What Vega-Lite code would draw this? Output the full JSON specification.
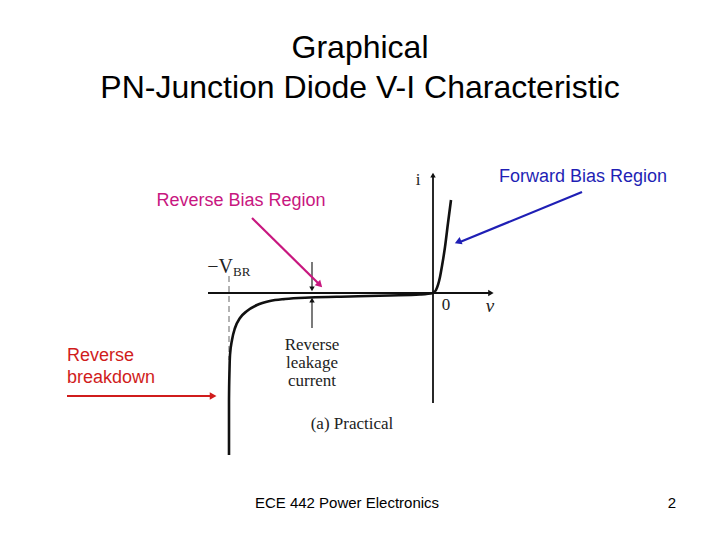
{
  "$schema": "https://vega.github.io/schema/vega-lite/v6.json",
  "width": 720,
  "height": 540,
  "padding": 0,
  "autosize": {"type": "fit", "contains": "padding"},
  "background": "white",
  "config": {"view": {"stroke": null}},
  "datasets": {
    "curve": [
      {"k": 1, "v": -204, "i": -162},
      {"k": 2, "v": -204, "i": -107},
      {"k": 3, "v": -203.5, "i": -77},
      {"k": 4, "v": -203, "i": -62},
      {"k": 5, "v": -201, "i": -47},
      {"k": 6, "v": -198, "i": -35},
      {"k": 7, "v": -193, "i": -25},
      {"k": 8, "v": -186, "i": -18},
      {"k": 9, "v": -176, "i": -12},
      {"k": 10, "v": -163, "i": -8},
      {"k": 11, "v": -148, "i": -6},
      {"k": 12, "v": -123, "i": -4.5},
      {"k": 13, "v": -83, "i": -3.5},
      {"k": 14, "v": -43, "i": -2.5},
      {"k": 15, "v": -13, "i": -1.5},
      {"k": 16, "v": 0, "i": 0},
      {"k": 17, "v": 3, "i": 3},
      {"k": 18, "v": 7, "i": 16},
      {"k": 19, "v": 9, "i": 27},
      {"k": 20, "v": 12, "i": 46},
      {"k": 21, "v": 15, "i": 70},
      {"k": 22, "v": 18, "i": 93}
    ],
    "axes": [
      {"v": -225, "i": 0, "v2": 57, "i2": 0},
      {"v": 0, "i": -110, "v2": 0, "i2": 116}
    ],
    "dashed": [{"v": -204, "i": 17, "v2": -204, "i2": -67}],
    "leak": [
      {"v": -121, "i": 31, "v2": -121, "i2": 4},
      {"v": -121, "i": -35, "v2": -121, "i2": -7}
    ],
    "headsUp": [{"v": 0, "i": 117}, {"v": -121, "i": -8}],
    "headsDown": [{"v": -121, "i": 5}],
    "headsRight": [{"v": 57, "i": 0}],
    "titles": [
      {"v": -73, "i": 245, "text": "Graphical"},
      {"v": -73, "i": 205, "text": "PN-Junction Diode V-I Characteristic"}
    ],
    "serif": [
      {"v": -15, "i": 113, "text": "i"},
      {"v": 13, "i": -12, "text": "0"},
      {"v": -121, "i": -52, "text": "Reverse"},
      {"v": -121, "i": -70, "text": "leakage"},
      {"v": -121, "i": -88, "text": "current"},
      {"v": -81, "i": -131, "text": "(a) Practical"}
    ],
    "vbr": [{"v": -213, "i": 26, "text": "−V"}],
    "sub": [{"v": -200, "i": 21, "text": "BR"}],
    "italic": [{"v": 57, "i": -13, "text": "v"}],
    "magentaText": [{"v": -192, "i": 92, "text": "Reverse Bias Region"}],
    "blueText": [{"v": 150, "i": 116, "text": "Forward Bias Region"}],
    "redText": [
      {"v": -366, "i": -63, "text": "Reverse"},
      {"v": -366, "i": -85, "text": "breakdown"}
    ],
    "magentaArrow": [{"v": -181, "i": 75, "v2": -115, "i2": 10}],
    "magentaHead": [{"v": -114, "i": 9}],
    "blueArrow": [{"v": 149, "i": 101, "v2": 27, "i2": 51}],
    "blueHead": [{"v": 26, "i": 51.5}],
    "redArrow": [{"v": -366, "i": -103, "v2": -222, "i2": -103}],
    "redHead": [{"v": -221, "i": -103}],
    "footer": [
      {"v": -86, "i": -210, "text": "ECE 442 Power Electronics"},
      {"v": 239, "i": -210, "text": "2"}
    ]
  },
  "encoding": {
    "x": {"field": "v", "type": "quantitative", "scale": {"domain": [-433, 287], "nice": false, "zero": false}, "axis": null},
    "y": {"field": "i", "type": "quantitative", "scale": {"domain": [-247, 293], "nice": false, "zero": false}, "axis": null}
  },
  "layer": [
    {"data": {"name": "axes"}, "mark": {"type": "rule", "color": "#111", "strokeWidth": 1.8},
     "encoding": {"x2": {"field": "v2"}, "y2": {"field": "i2"}}},
    {"data": {"name": "dashed"}, "mark": {"type": "rule", "color": "#666", "strokeWidth": 1, "strokeDash": [6, 4]},
     "encoding": {"x2": {"field": "v2"}, "y2": {"field": "i2"}}},
    {"data": {"name": "leak"}, "mark": {"type": "rule", "color": "#222", "strokeWidth": 1.2},
     "encoding": {"x2": {"field": "v2"}, "y2": {"field": "i2"}}},
    {"data": {"name": "curve"}, "mark": {"type": "line", "color": "#111", "strokeWidth": 2.6, "interpolate": "monotone"},
     "encoding": {"order": {"field": "k", "type": "quantitative"}}},
    {"data": {"name": "headsUp"}, "mark": {"type": "point", "shape": "triangle", "filled": true, "color": "#111", "size": 30, "angle": 0, "opacity": 1}, "encoding": {}},
    {"data": {"name": "headsDown"}, "mark": {"type": "point", "shape": "triangle", "filled": true, "color": "#111", "size": 30, "angle": 180, "opacity": 1}, "encoding": {}},
    {"data": {"name": "headsRight"}, "mark": {"type": "point", "shape": "triangle", "filled": true, "color": "#111", "size": 40, "angle": 90, "opacity": 1}, "encoding": {}},
    {"data": {"name": "magentaArrow"}, "mark": {"type": "rule", "color": "#C8177F", "strokeWidth": 2.2},
     "encoding": {"x2": {"field": "v2"}, "y2": {"field": "i2"}}},
    {"data": {"name": "magentaHead"}, "mark": {"type": "point", "shape": "triangle", "filled": true, "color": "#C8177F", "size": 60, "angle": 135, "opacity": 1}, "encoding": {}},
    {"data": {"name": "blueArrow"}, "mark": {"type": "rule", "color": "#1F1FB5", "strokeWidth": 2.2},
     "encoding": {"x2": {"field": "v2"}, "y2": {"field": "i2"}}},
    {"data": {"name": "blueHead"}, "mark": {"type": "point", "shape": "triangle", "filled": true, "color": "#1F1FB5", "size": 60, "angle": 248, "opacity": 1}, "encoding": {}},
    {"data": {"name": "redArrow"}, "mark": {"type": "rule", "color": "#D01C1C", "strokeWidth": 2.2},
     "encoding": {"x2": {"field": "v2"}, "y2": {"field": "i2"}}},
    {"data": {"name": "redHead"}, "mark": {"type": "point", "shape": "triangle", "filled": true, "color": "#D01C1C", "size": 60, "angle": 90, "opacity": 1}, "encoding": {}},
    {"data": {"name": "titles"}, "mark": {"type": "text", "font": "Liberation Sans", "fontSize": 32, "color": "#000", "align": "center", "baseline": "middle"},
     "encoding": {"text": {"field": "text"}}},
    {"data": {"name": "serif"}, "mark": {"type": "text", "font": "Liberation Serif", "fontSize": 17, "color": "#222", "align": "center", "baseline": "middle"},
     "encoding": {"text": {"field": "text"}}},
    {"data": {"name": "vbr"}, "mark": {"type": "text", "font": "Liberation Serif", "fontSize": 20, "color": "#222", "align": "center", "baseline": "middle"},
     "encoding": {"text": {"field": "text"}}},
    {"data": {"name": "sub"}, "mark": {"type": "text", "font": "Liberation Serif", "fontSize": 13, "color": "#222", "align": "left", "baseline": "middle"},
     "encoding": {"text": {"field": "text"}}},
    {"data": {"name": "italic"}, "mark": {"type": "text", "font": "Liberation Serif", "fontStyle": "italic", "fontSize": 19, "color": "#222", "align": "center", "baseline": "middle"},
     "encoding": {"text": {"field": "text"}}},
    {"data": {"name": "magentaText"}, "mark": {"type": "text", "font": "Liberation Sans", "fontSize": 18, "color": "#C8177F", "align": "center", "baseline": "middle"},
     "encoding": {"text": {"field": "text"}}},
    {"data": {"name": "blueText"}, "mark": {"type": "text", "font": "Liberation Sans", "fontSize": 18, "color": "#1F1FB5", "align": "center", "baseline": "middle"},
     "encoding": {"text": {"field": "text"}}},
    {"data": {"name": "redText"}, "mark": {"type": "text", "font": "Liberation Sans", "fontSize": 18, "color": "#D01C1C", "align": "left", "baseline": "middle"},
     "encoding": {"text": {"field": "text"}}},
    {"data": {"name": "footer"}, "mark": {"type": "text", "font": "Liberation Sans", "fontSize": 15, "color": "#000", "align": "center", "baseline": "middle"},
     "encoding": {"text": {"field": "text"}}}
  ]
}
